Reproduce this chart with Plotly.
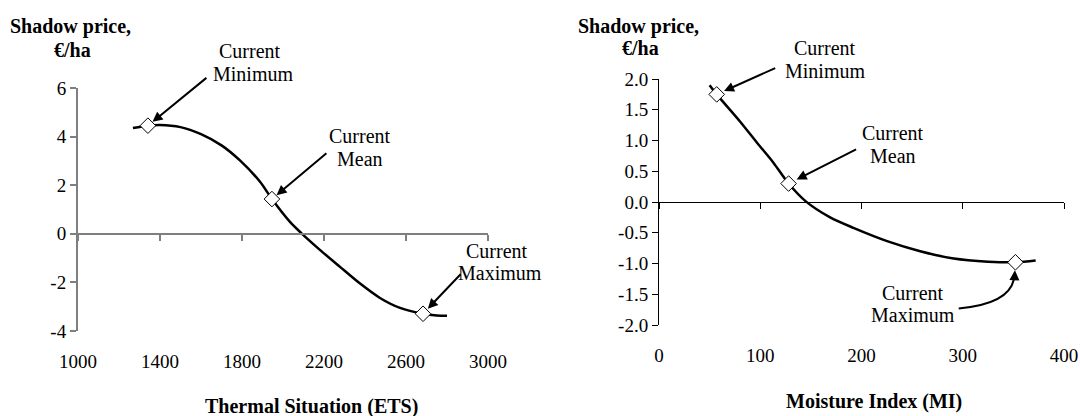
import plotly.graph_objects as go

# ---- data ----
ets_x = [1268, 1341, 1400, 1500, 1600, 1700, 1790, 1888, 1946, 2034, 2093, 2180, 2278, 2376, 2473, 2571, 2683, 2750, 2800]
ets_y = [4.35, 4.45, 4.48, 4.39, 4.10, 3.64, 3.02, 2.14, 1.43, 0.49, 0.00, -0.66, -1.36, -2.05, -2.64, -3.05, -3.29, -3.36, -3.37]
ets_mark_x = [1341, 1946, 2683]
ets_mark_y = [4.45, 1.43, -3.29]

mi_x = [50, 57, 80, 97, 113, 128, 145, 169, 192, 226, 258, 291, 325, 352, 372]
mi_y = [1.90, 1.75, 1.31, 0.96, 0.64, 0.30, 0.01, -0.25, -0.42, -0.64, -0.80, -0.92, -0.97, -0.98, -0.95]
mi_mark_x = [57, 128, 352]
mi_mark_y = [1.75, 0.30, -0.98]

ets_ticks = [1000, 1400, 1800, 2200, 2600, 3000]
ets_yticks = [-4, -2, 0, 2, 4, 6]
ets_yticktext = ["-4", "-2", "0", "2", "4", "6"]
mi_ticks = [0, 100, 200, 300, 400]
mi_yticks = [-2.0, -1.5, -1.0, -0.5, 0.0, 0.5, 1.0, 1.5, 2.0]
mi_yticktext = ["-2.0", "-1.5", "-1.0", "-0.5", "0.0", "0.5", "1.0", "1.5", "2.0"]

label_top = ["Current", "Current", "Current"]
label_bottom = ["Minimum", "Mean", "Maximum"]

FONT = "Liberation Serif, Times New Roman, serif"
W, H = 1080, 416


def px(x):
    return x / W


def py(y):
    return 1 - y / H


fig = go.Figure()

fig.add_trace(go.Scatter(x=ets_x, y=ets_y, mode="lines",
                         line=dict(color="black", width=2.5, shape="spline", smoothing=0.8),
                         xaxis="x", yaxis="y", hoverinfo="skip", showlegend=False))
fig.add_trace(go.Scatter(x=ets_mark_x, y=ets_mark_y, mode="markers",
                         marker=dict(symbol="diamond", size=12, color="white", line=dict(color="black", width=1)),
                         xaxis="x", yaxis="y", showlegend=False))
fig.add_trace(go.Scatter(x=mi_x, y=mi_y, mode="lines",
                         line=dict(color="black", width=2.5, shape="spline", smoothing=0.8),
                         xaxis="x2", yaxis="y2", hoverinfo="skip", showlegend=False))
fig.add_trace(go.Scatter(x=mi_mark_x, y=mi_mark_y, mode="markers",
                         marker=dict(symbol="diamond", size=12, color="white", line=dict(color="black", width=1)),
                         xaxis="x2", yaxis="y2", showlegend=False))
# invisible traces so the label axes are drawn
fig.add_trace(go.Scatter(x=[ets_ticks[0]], y=[0], mode="markers", marker=dict(opacity=0),
                         xaxis="x3", yaxis="y", showlegend=False, hoverinfo="skip"))
fig.add_trace(go.Scatter(x=[mi_ticks[0]], y=[0], mode="markers", marker=dict(opacity=0),
                         xaxis="x4", yaxis="y2", showlegend=False, hoverinfo="skip"))

tickfont = dict(family=FONT, size=19, color="black")
gray = "#7f7f7f"

L_dom_x = [px(78), px(488)]
L_dom_y = [py(331), py(88)]
R_dom_x = [px(659), px(1064)]
R_dom_y = [py(325), py(79)]

common = dict(automargin=False, showgrid=False, zeroline=False)

fig.update_layout(
    template="none",
    width=W, height=H,
    margin=dict(l=0, r=0, t=0, b=0),
    paper_bgcolor="white", plot_bgcolor="rgba(0,0,0,0)",
    showlegend=False,
    xaxis=dict(domain=L_dom_x, range=[1000, 3000], anchor="free", position=py(234),
               showline=True, linecolor=gray, linewidth=2, ticks="outside", ticklen=6, tickwidth=1.5,
               tickcolor=gray, tickvals=ets_ticks, showticklabels=False, **common),
    xaxis3=dict(domain=L_dom_x, range=[1000, 3000], anchor="free", position=py(348), overlaying="x",
                showline=False, ticks="", tickvals=ets_ticks, tickfont=tickfont, **common),
    yaxis=dict(domain=L_dom_y, range=[-4, 6], anchor="x",
               showline=True, linecolor=gray, linewidth=2, ticks="outside", ticklen=6, tickwidth=1.5,
               tickcolor=gray, tickvals=ets_yticks, ticktext=ets_yticktext, tickfont=tickfont, **common),
    xaxis2=dict(domain=R_dom_x, range=[0, 400], anchor="free", position=py(201.5),
                showline=True, linecolor="black", linewidth=1, ticks="outside", ticklen=6, tickcolor="black",
                tickvals=mi_ticks, showticklabels=False, **common),
    xaxis4=dict(domain=R_dom_x, range=[0, 400], anchor="free", position=py(342), overlaying="x2",
                showline=False, ticks="", tickvals=mi_ticks, tickfont=tickfont, **common),
    yaxis2=dict(domain=R_dom_y, range=[-2, 2], anchor="x2",
                showline=True, linecolor="black", linewidth=1, ticks="outside", ticklen=6, tickcolor="black",
                tickvals=mi_yticks, ticktext=mi_yticktext, tickfont=tickfont, **common),
)

ann_font = dict(family=FONT, size=20, color="black")
bold_font = dict(family=FONT, size=20, color="black")


def txt(x, y, t, font):
    fig.add_annotation(x=px(x), y=py(y), xref="paper", yref="paper", text=t, showarrow=False,
                       font=font, xanchor="center", yanchor="middle")


# y-axis titles
txt(70.5, 26, "<b>Shadow price,</b>", bold_font)
txt(72, 50, "<b>€/ha</b>", bold_font)
txt(638, 27, "<b>Shadow price,</b>", bold_font)
txt(640, 48, "<b>€/ha</b>", bold_font)
# x-axis titles
txt(312, 406, "<b>Thermal Situation (ETS)</b>", bold_font)
txt(874, 401, "<b>Moisture Index (MI)</b>", bold_font)

# label texts
left_pos = [((250, 51), (253, 74)), ((360, 136), (360, 159)), ((497, 251), (500, 273))]
right_pos = [((825, 48), (825, 71)), ((893, 133), (893, 156)), ((913, 293), (913, 315))]
for a, b, (p1, p2) in zip(label_top, label_bottom, left_pos):
    txt(p1[0], p1[1], a, ann_font)
    txt(p2[0], p2[1], b, ann_font)
for a, b, (p1, p2) in zip(label_top, label_bottom, right_pos):
    txt(p1[0], p1[1], a, ann_font)
    txt(p2[0], p2[1], b, ann_font)

# arrows
left_arrows = [(60, -49, 6), (56, -47, 6), (39, -41, 7)]
for mx, my, (ax, ay, so) in zip(ets_mark_x, ets_mark_y, left_arrows):
    fig.add_annotation(x=mx, y=my, xref="x", yref="y", text="", showarrow=True, ax=ax, ay=ay,
                       arrowhead=2, arrowsize=1, arrowwidth=2, arrowcolor="black", standoff=so)
right_arrows = [(60, -27, 8), (69, -35, 9)]
for mx, my, (ax, ay, so) in zip(mi_mark_x[:2], mi_mark_y[:2], right_arrows):
    fig.add_annotation(x=mx, y=my, xref="x2", yref="y2", text="", showarrow=True, ax=ax, ay=ay,
                       arrowhead=2, arrowsize=1, arrowwidth=2, arrowcolor="black", standoff=so)
# curved arrow for right maximum
fig.add_shape(type="path", xref="x2", yref="y2",
              path="M 296,-1.73 Q 345,-1.66 350.5,-1.26",
              line=dict(color="black", width=2))
fig.add_annotation(x=mi_mark_x[2], y=mi_mark_y[2], xref="x2", yref="y2", text="", showarrow=True,
                   ax=-1, ay=18, arrowhead=2, arrowsize=1, arrowwidth=2, arrowcolor="black", standoff=8)

page_fix = ("document.body.style.margin='0';document.body.style.padding='0';"
            "document.body.style.overflow='hidden';document.documentElement.style.overflow='hidden';")
fig.write_html("out.html", post_script=page_fix, config={"displayModeBar": False})
